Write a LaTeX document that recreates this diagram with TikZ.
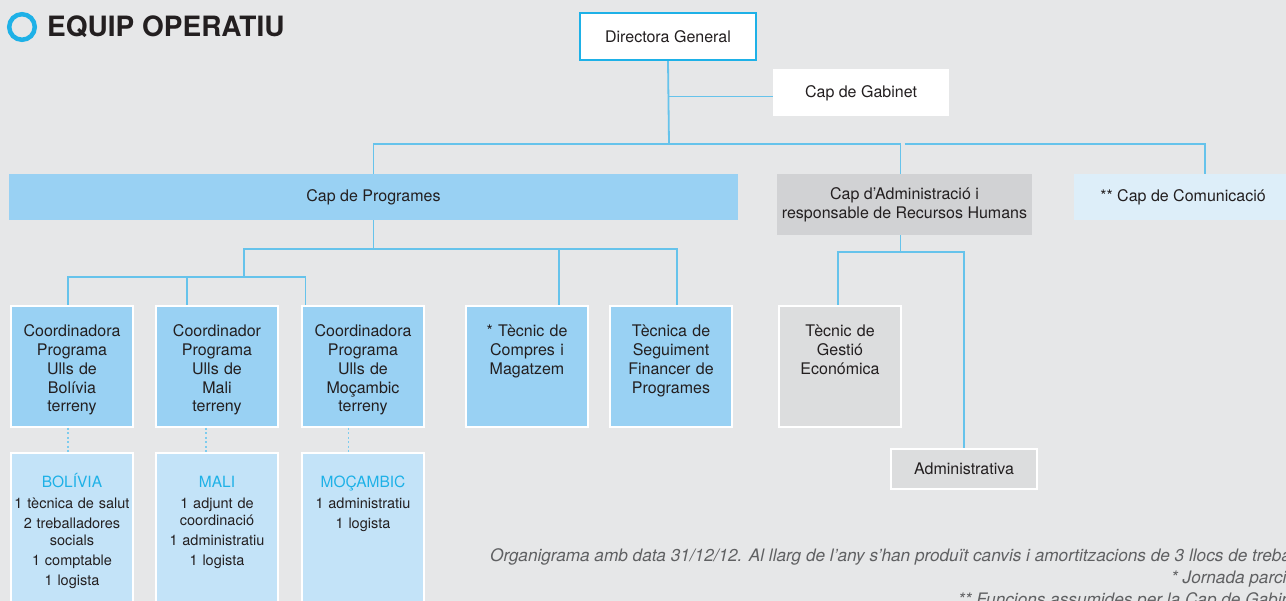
\documentclass[tikz,border=0pt]{standalone}
\usepackage{fontspec}
\setmainfont{TeX Gyre Heros}
\usepackage{xcolor}
\usepackage{tikz}
\usetikzlibrary{calc,positioning}
\definecolor{bg}{HTML}{E6E7E8}
\definecolor{linkc}{HTML}{66C3EB}
\definecolor{cyanc}{HTML}{1EB1E7}
\definecolor{progblue}{HTML}{99D1F3}
\definecolor{paleblue}{HTML}{C3E3F8}
\definecolor{commblue}{HTML}{DDEEF9}
\definecolor{admgray}{HTML}{D1D2D4}
\definecolor{lightgray}{HTML}{DCDDDE}
\definecolor{txt}{HTML}{231F20}
\definecolor{footgray}{HTML}{5F6062}
\tikzstyle{line}=[draw=linkc, line width=1.8pt]
\tikzstyle{dotline}=[draw=linkc!85!white, line width=1.8pt, dash pattern=on 2pt off 2.4pt]
\tikzstyle{head}=[rectangle, inner sep=0pt, align=center, text=txt, font=\fontsize{16}{19}\selectfont]
\tikzstyle{unit}=[rectangle, anchor=north west, inner xsep=0pt, inner ysep=19pt, text height=12pt, text depth=71pt, text width=122pt, align=center, fill=progblue, draw=white, line width=2pt, text=txt, font=\fontsize{16}{18.7}\selectfont]
\tikzstyle{crew}=[unit, fill=paleblue, inner ysep=21pt, text height=14pt, text depth=107pt, font=\fontsize{14.5}{17}\selectfont]
\tikzstyle{note}=[inner sep=0pt, text=footgray, font=\fontsize{17.2}{20}\selectfont\itshape]
\newcommand{\pais}[1]{{\fontsize{15.5}{17}\selectfont\color{cyanc}#1}}
\begin{document}
\begin{tikzpicture}[x=1pt,y=-1pt]
\useasboundingbox (0,0) rectangle (1286,601);
\clip (0,0) rectangle (1286,601);
\fill[bg] (0,0) rectangle (1286,601);
% title
\draw[cyanc, line width=4.5pt] (22,27) circle (12.8pt);
\node[anchor=west, inner sep=0pt, text=txt, font=\fontsize{28}{30}\selectfont\bfseries](title) at (47,27) {EQUIP OPERATIU};
% top levels
\node[head, fill=white, draw=cyanc, line width=2.4pt, minimum width=176pt, minimum height=47pt](dir) at (668,36.5) {Directora General};
\node[head, fill=white, minimum width=176pt, minimum height=47pt, text depth=1pt](gab) at (861,92.5) {Cap de Gabinet};
\node[head, fill=progblue, minimum width=729pt, minimum height=46pt](prog) at (373.5,197) {Cap de Programes};
\node[head, fill=admgray, minimum width=255pt, minimum height=61pt](adm) at (904.5,204.5) {Cap d’Administració i\\responsable de Recursos Humans};
\node[head, fill=commblue, minimum width=218pt, minimum height=46pt](com) at (1183,197) {** Cap de Comunicació};
% units
\node[unit](cb) at (10,305) {Coordinadora\\Programa\\Ulls de\\Bolívia\\terreny};
\node[unit](cm) at (155,305) {Coordinador\\Programa\\Ulls de\\Mali\\terreny};
\node[unit](cz) at (301,305) {Coordinadora\\Programa\\Ulls de\\Moçambic\\terreny};
\node[unit](tc) at (465,305) {* Tècnic de\\Compres i\\Magatzem};
\node[unit](ts) at (609,305) {Tècnica de\\Seguiment\\Financer de\\Programes};
\node[unit, fill=lightgray](tg) at (778,305) {Tècnic de\\Gestió\\Económica};
\node[head, fill=lightgray, draw=white, line width=2pt, minimum width=146pt, minimum height=40pt](adv) at (964,469) {Administrativa};
% field teams
\node[crew](lb) at (10,452) {\pais{BOLÍVIA}\\[4pt]1 tècnica de salut\\[3pt]2 treballadores\\socials\\[3pt]1 comptable\\[3pt]1 logista};
\node[crew](lm) at (155,452) {\pais{MALI}\\[4pt]1 adjunt de\\coordinació\\[3pt]1 administratiu\\[3pt]1 logista};
\node[crew](lz) at (301,452) {\pais{MOÇAMBIC}\\[4pt]1 administratiu\\[3pt]1 logista};
% notes
\node[note, anchor=west](n1) at (490,557) {Organigrama amb data 31/12/12. Al llarg de l'any s'han produït canvis i amortitzacions de 3 llocs de treball.};
\node[note, anchor=west](n2) at (1171,579) {* Jornada parcial};
\node[note, anchor=west](n3) at (958,601) {** Funcions assumides per la Cap de Gabinet};
% connectors
\coordinate (bus) at (669,144);
\draw[line] (dir.south) -- (bus);
\draw[line] (dir.south |- gab.west) ++(0,4) -- ([yshift=-4pt]gab.west);
\draw[line] (prog.north) |- (bus) -| ([xshift=-4pt]adm.north);
\draw[line] (bus -| adm.north) -| ([xshift=22pt]com.north);
\coordinate (pj) at (373.5,249);
\coordinate (cj) at (244,277);
\draw[line] (prog.south) -- (pj);
\draw[line] ([xshift=6pt]ts.north) |- (cj |- pj) -- (cj);
\draw[line] ([xshift=32pt]tc.north) |- (pj);
\draw[line] ([xshift=-4pt]cb.north) |- ([xshift=-57.5pt]cz.north |- cj) -- ([xshift=-57.5pt]cz.north);
\draw[line] ([xshift=-30pt]cm.north) -- ([xshift=-30pt]cm.north |- cj);
\coordinate (aj) at (900.5,252);
\draw[line] ([xshift=-4pt]adm.south) -- (aj);
\draw[line] ([xshift=-2pt]tg.north) |- (aj) -| (adv.north);
\draw[dotline] ([xshift=-4pt]cb.south) -- ([xshift=-4pt]lb.north);
\draw[dotline] ([xshift=-11pt]cm.south) -- ([xshift=-11pt]lm.north);
\draw[dotline] ([xshift=-14.5pt]cz.south) -- ([xshift=-14.5pt]lz.north);
\end{tikzpicture}
\end{document}
